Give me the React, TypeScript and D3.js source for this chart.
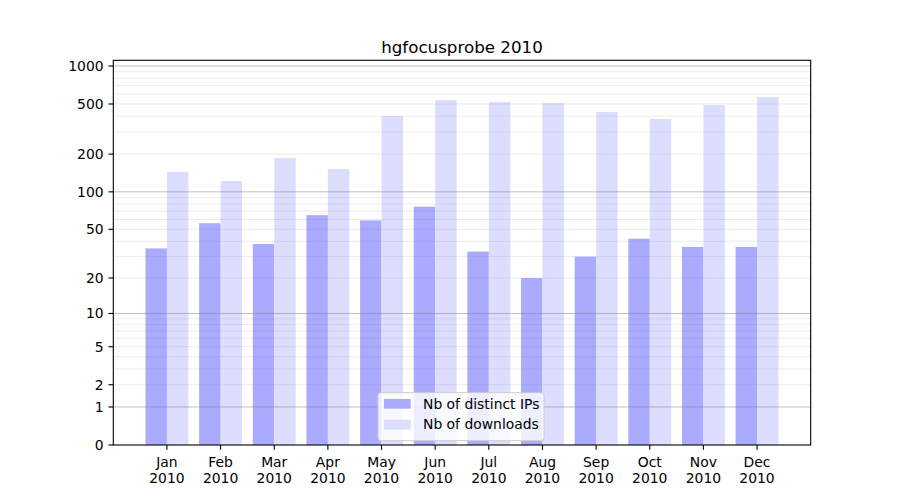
import React from "react";
import * as d3 from "d3";

const months = ["Jan", "Feb", "Mar", "Apr", "May", "Jun", "Jul", "Aug", "Sep", "Oct", "Nov", "Dec"];
const yearLabel = "2010";
const distinctIPs = [35, 56, 38, 65, 59, 76, 33, 20, 30, 42, 36, 36];
const downloads = [144, 122, 186, 152, 402, 538, 519, 509, 432, 380, 491, 568];
const yTicks = [0, 1, 2, 5, 10, 20, 50, 100, 200, 500, 1000];
const majorGrid = [1, 10, 100, 1000];
const minorGrid = [2, 3, 4, 5, 6, 7, 8, 9, 20, 30, 40, 50, 60, 70, 80, 90, 200, 300, 400, 500, 600, 700, 800, 900];
const title = "hgfocusprobe 2010";
const seriesNames = ["Nb of distinct IPs", "Nb of downloads"];
const colors = ["#aaaaff", "#ddddff"];

const W = 900, H = 500;
const L = 113.3, R = 810.7, T = 60.3, B = 445;
const FONT = "'DejaVu Sans', sans-serif";
const FS = 13.9;

export default function App() {
  const x = d3.scaleLinear().domain([-1, 12]).range([L, R]);
  const y = d3.scaleSymlog().constant(1).domain([0, 1110]).range([B, T]);
  const bw = 0.4;
  const tickLen = 4.86;

  return (
    <svg width={W} height={H} style={{ position: "absolute", left: 0, top: 0, background: "#fff" }} fontFamily={FONT}>
      <rect x={0} y={0} width={W} height={H} fill="#fff" />
      {/* bars */}
      {distinctIPs.map((v, i) => (
        <rect key={"a" + i} x={x(i - bw)} y={y(v)} width={x(i) - x(i - bw)} height={B - y(v)} fill={colors[0]} />
      ))}
      {downloads.map((v, i) => (
        <rect key={"b" + i} x={x(i)} y={y(v)} width={x(i + bw) - x(i)} height={B - y(v)} fill={colors[1]} />
      ))}
      {/* grid */}
      {minorGrid.map((v) => (
        <line key={"mi" + v} x1={L} x2={R} y1={y(v)} y2={y(v)} stroke="rgba(128,128,128,0.15)" strokeWidth={1} />
      ))}
      {majorGrid.map((v) => (
        <line key={"ma" + v} x1={L} x2={R} y1={y(v)} y2={y(v)} stroke="rgba(128,128,128,0.5)" strokeWidth={1} />
      ))}
      {/* spines */}
      <rect x={L} y={T} width={R - L} height={B - T} fill="none" stroke="#000" strokeWidth={1.1} />
      {/* y ticks */}
      {yTicks.map((v) => (
        <g key={"yt" + v}>
          <line x1={L - tickLen} x2={L} y1={y(v)} y2={y(v)} stroke="#000" strokeWidth={1.1} />
          <text x={L - tickLen - 4.86} y={y(v)} dy="0.35em" textAnchor="end" fontSize={FS} fill="#000">{v}</text>
        </g>
      ))}
      {/* x ticks */}
      {months.map((m, i) => (
        <g key={"xt" + m}>
          <line x1={x(i)} x2={x(i)} y1={B} y2={B + tickLen} stroke="#000" strokeWidth={1.1} />
          <text x={x(i)} y={466.5} textAnchor="middle" fontSize={FS} fill="#000">{m}</text>
          <text x={x(i)} y={482.5} textAnchor="middle" fontSize={FS} fill="#000">{yearLabel}</text>
        </g>
      ))}
      {/* title */}
      <text x={(L + R) / 2} y={52.5} textAnchor="middle" fontSize={16.7} fill="#000">{title}</text>
      {/* legend */}
      <g>
        <rect x={378} y={392.7} width={166} height={48} rx={2.8} fill="rgba(255,255,255,0.8)" stroke="#cccccc" strokeWidth={1} />
        {seriesNames.map((s, i) => (
          <g key={s}>
            <rect x={384} y={399 + i * 20.8} width={26.7} height={9.7} fill={colors[i]} />
            <text x={423} y={408.5 + i * 20.8} fontSize={FS} fill="#000">{s}</text>
          </g>
        ))}
      </g>
    </svg>
  );
}
